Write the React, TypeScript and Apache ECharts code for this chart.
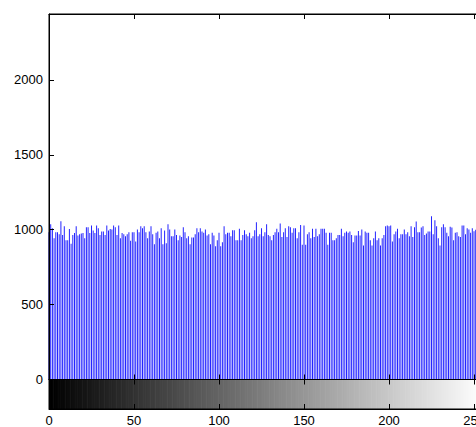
import React, { useEffect, useRef } from "react";
import * as echarts from "echarts";

// Histogram counts for gray levels 0..255
const counts: number[] = [
  983, 1036, 1010, 943, 983, 983, 970, 1056, 965, 1023, 930, 930, 1005, 906, 965, 978, 1023, 961, 970, 975,
  978, 943, 1016, 1016, 978, 1028, 995, 978, 1028, 1010, 965, 988, 988, 965, 1028, 995, 1005, 1001, 1028, 1016,
  965, 1028, 943, 978, 970, 957, 970, 983, 926, 983,
  983, 921, 1001, 983, 1023, 1010, 1023, 983, 943, 988, 1023, 970, 903, 979, 988, 943, 1010, 903, 995, 910,
  1036, 1001, 957, 957, 1001, 965, 930, 961, 952, 1016, 983, 943, 957, 903, 948, 948, 970, 1010, 983, 1010,
  988, 979, 1001, 961, 970, 903, 979, 961, 890, 930,
  979, 890, 917, 1023, 970, 979, 979, 957, 997, 997, 930, 930, 1006, 930, 965, 997, 970, 957, 979, 943,
  957, 997, 1050, 957, 970, 1010, 957, 983, 1036, 965, 957, 930, 965, 983, 1006, 983, 1041, 952, 983, 1010,
  952, 1023, 1016, 979, 1010, 1010, 943, 983, 1032, 899,
  1028, 899, 970, 983, 943, 1006, 952, 1006, 957, 970, 1006, 1006, 1006, 979, 899, 979, 979, 930, 930, 943,
  965, 965, 1006, 957, 979, 988, 979, 988, 965, 917, 961, 961, 992, 961, 1001, 895, 988, 979, 979, 930,
  895, 943, 988, 930, 943, 895, 943, 965, 1023, 1028,
  1023, 1028, 921, 970, 988, 1006, 943, 970, 970, 1001, 970, 983, 957, 1023, 952, 1016, 1054, 983, 983, 1014,
  1023, 965, 974, 988, 988, 1090, 970, 1063, 1023, 943, 895, 1016, 1036, 1016, 979, 957, 1019, 1014, 930, 979,
  983, 957, 952, 1028, 1028, 970, 1010, 1001, 979, 1010, 990, 1000, 985, 1005, 995, 980,
];

// Gray levels of the colour bar
const grayLevels: number[] = counts.map((_, i) => i);

const X_MIN = 0;
const X_MAX = 255;
const X_INTERVAL = 50;
const Y_MIN = 0;
const Y_MAX = 2440;
const Y_INTERVAL = 500;

const FONT = "'Liberation Sans', Arial, Helvetica, sans-serif";

export default function App() {
  const ref = useRef<HTMLDivElement>(null);

  useEffect(() => {
    if (!ref.current) return;
    const chart = echarts.init(ref.current, undefined, { renderer: "svg" });

    const line = { show: true, onZero: false, lineStyle: { color: "#000", width: 1 } };
    const tickIn = { show: true, inside: true, length: 5, lineStyle: { color: "#000", width: 1 } };
    const noLabel = { show: false };
    const plain = (v: number) => String(v);

    const xBase = {
      type: "value" as const,
      min: X_MIN,
      max: X_MAX,
      interval: X_INTERVAL,
      splitLine: { show: false },
      axisLine: line,
      z: 5,
    };

    const gridBase = {
      show: true,
      borderColor: "#000",
      borderWidth: 1,
      backgroundColor: "transparent",
      outerBoundsMode: "none",
      containLabel: false,
      z: 6,
    };

    chart.setOption({
      animation: false,
      backgroundColor: "#fff",
      grid: [
        { ...gridBase, left: 49, top: 14, width: 433.5, height: 365.5 },
        { ...gridBase, left: 49, top: 379.5, width: 433.5, height: 29.5 },
      ],
      xAxis: [
        { ...xBase, gridIndex: 0, position: "bottom", axisTick: tickIn, axisLabel: noLabel },
        { ...xBase, gridIndex: 0, position: "top", axisTick: tickIn, axisLabel: noLabel },
        {
          ...xBase,
          gridIndex: 1,
          position: "bottom",
          axisTick: tickIn,
          axisLabel: {
            show: true,
            margin: 5,
            fontSize: 13,
            color: "#000",
            fontFamily: FONT,
            showMaxLabel: false,
            formatter: plain,
          },
        },
        { ...xBase, gridIndex: 1, position: "top", axisTick: tickIn, axisLabel: noLabel },
      ],
      yAxis: [
        {
          type: "value",
          gridIndex: 0,
          position: "left",
          min: Y_MIN,
          max: Y_MAX,
          interval: Y_INTERVAL,
          splitLine: { show: false },
          axisLine: line,
          axisTick: tickIn,
          z: 5,
          axisLabel: {
            show: true,
            margin: 6,
            fontSize: 13,
            color: "#000",
            fontFamily: FONT,
            showMaxLabel: false,
            formatter: plain,
          },
        },
        {
          type: "value",
          gridIndex: 1,
          position: "left",
          min: 0,
          max: 1,
          splitLine: { show: false },
          axisLine: line,
          axisTick: { show: false },
          axisLabel: noLabel,
          z: 5,
        },
      ],
      series: [
        {
          type: "bar",
          xAxisIndex: 0,
          yAxisIndex: 0,
          barWidth: 1,
          itemStyle: { color: "#2424ff" },
          data: counts.map((v, i) => [i, v]),
          z: 1,
        },
        {
          type: "custom",
          xAxisIndex: 2,
          yAxisIndex: 1,
          data: grayLevels,
          z: 1,
          renderItem: (params: any, api: any) => {
            const g = api.value(0);
            const p0 = api.coord([g - 0.5, 1]);
            const p1 = api.coord([g + 0.5, 0]);
            const rect = echarts.graphic.clipRectByRect(
              { x: p0[0], y: p0[1], width: p1[0] - p0[0] + 0.6, height: p1[1] - p0[1] },
              {
                x: params.coordSys.x,
                y: params.coordSys.y,
                width: params.coordSys.width,
                height: params.coordSys.height,
              }
            );
            if (!rect) return null;
            return {
              type: "rect",
              shape: rect,
              style: { fill: `rgb(${g},${g},${g})` },
            };
          },
        },
      ],
    });

    return () => chart.dispose();
  }, []);

  return (
    <div
      ref={ref}
      style={{ position: "absolute", left: 0, top: 0, width: 476, height: 427, overflow: "hidden" }}
    />
  );
}
